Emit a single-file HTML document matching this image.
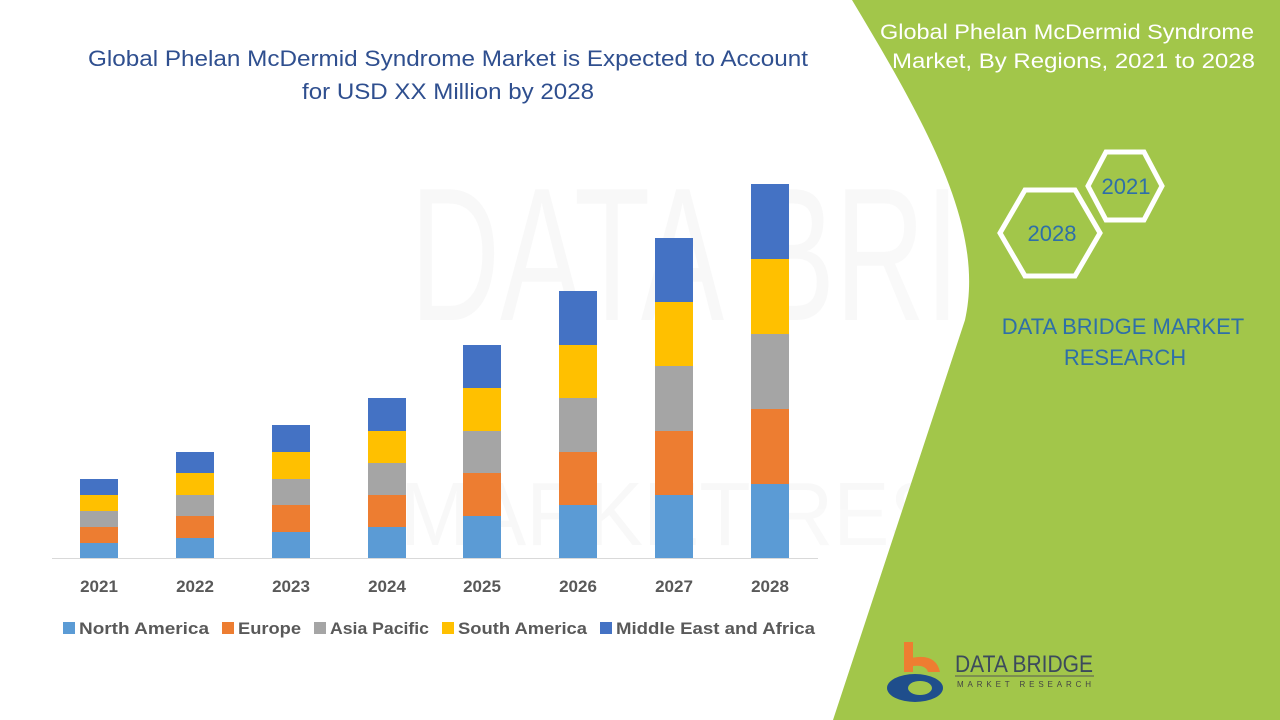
<!DOCTYPE html>
<html><head><meta charset="utf-8"><style>
body{margin:0;width:1280px;height:720px;overflow:hidden;background:#fff;font-family:"Liberation Sans",Calibri,sans-serif}
</style></head><body>
<svg width="1280" height="720" viewBox="0 0 1280 720" xmlns="http://www.w3.org/2000/svg" style="position:absolute;left:0;top:0">
<defs><clipPath id="w"><path d="M0,0 L852,0 C930,130 985,230 965,320 L833,720 L0,720 Z"/></clipPath></defs>
<path d="M852,0 C930,130 985,230 965,320 L833,720 L1280,720 L1280,0 Z" fill="#a2c64a"/>
<g font-family="Liberation Sans, sans-serif" opacity="0.03" fill="#444" clip-path="url(#w)">
<text x="410" y="320" font-size="190" textLength="820" lengthAdjust="spacingAndGlyphs">DATA BRIDGE</text>
<text x="400" y="545" font-size="90" textLength="840" lengthAdjust="spacingAndGlyphs">MARKET RESEARCH</text>
</g>
<text x="88" y="66" font-size="22" fill="#2f4f8f" textLength="720" lengthAdjust="spacingAndGlyphs">Global Phelan McDermid Syndrome Market is Expected to Account</text>
<text x="302" y="99" font-size="22" fill="#2f4f8f" textLength="292" lengthAdjust="spacingAndGlyphs">for USD XX Million by 2028</text>
<text x="880" y="39" font-size="21" fill="#fff" textLength="374" lengthAdjust="spacingAndGlyphs">Global Phelan McDermid Syndrome</text>
<text x="892" y="68" font-size="21" fill="#fff" textLength="363" lengthAdjust="spacingAndGlyphs">Market, By Regions, 2021 to 2028</text>
<polygon points="1088,186 1106,152 1144,152 1162,186 1144,220 1106,220" fill="none" stroke="#fff" stroke-width="5"/>
<polygon points="1000,233 1025,190 1075,190 1100,233 1075,276 1025,276" fill="none" stroke="#fff" stroke-width="5"/>
<text x="1126" y="194" text-anchor="middle" font-size="22" fill="#2e6fa8">2021</text>
<text x="1052" y="241" text-anchor="middle" font-size="22" fill="#2e6fa8">2028</text>
<text x="1123" y="334" text-anchor="middle" font-size="22" fill="#2e6fa8">DATA BRIDGE MARKET</text>
<text x="1125" y="365" text-anchor="middle" font-size="22" fill="#2e6fa8">RESEARCH</text>
<rect x="904" y="642" width="9" height="30" fill="#ee7d31"/>
<path d="M904,660 Q935,650 940,672 L928,672 Q925,662 904,668 Z" fill="#ee7d31"/>
<ellipse cx="915" cy="688" rx="28" ry="14" fill="#1f4e8c"/>
<ellipse cx="920" cy="688" rx="12" ry="7" fill="#a2c64a"/>
<text x="955" y="672" font-size="24" fill="#3c4a5c" textLength="138" lengthAdjust="spacingAndGlyphs">DATA BRIDGE</text>
<line x1="955" y1="676" x2="1094" y2="676" stroke="#555" stroke-width="1"/>
<text x="957" y="687" font-size="8" fill="#444" textLength="134" lengthAdjust="spacing">MARKET RESEARCH</text>
<line x1="52" y1="558.5" x2="818" y2="558.5" stroke="#d9d9d9" stroke-width="1"/>
<g font-size="17" font-weight="bold" fill="#595959" text-anchor="middle">
<text x="99" y="592">2021</text><text x="195" y="592">2022</text><text x="291" y="592">2023</text><text x="387" y="592">2024</text><text x="482" y="592">2025</text><text x="578" y="592">2026</text><text x="674" y="592">2027</text><text x="770" y="592">2028</text>
</g>
<g font-size="17" font-weight="bold" fill="#595959">
<rect x="63" y="622" width="12" height="12" fill="#5b9bd5"/><text x="79" y="634" textLength="130" lengthAdjust="spacingAndGlyphs">North America</text>
<rect x="222" y="622" width="12" height="12" fill="#ed7d31"/><text x="238" y="634" textLength="63" lengthAdjust="spacingAndGlyphs">Europe</text>
<rect x="314" y="622" width="12" height="12" fill="#a5a5a5"/><text x="330" y="634" textLength="99" lengthAdjust="spacingAndGlyphs">Asia Pacific</text>
<rect x="442" y="622" width="12" height="12" fill="#ffc000"/><text x="458" y="634" textLength="129" lengthAdjust="spacingAndGlyphs">South America</text>
<rect x="600" y="622" width="12" height="12" fill="#4472c4"/><text x="616" y="634" textLength="199" lengthAdjust="spacingAndGlyphs">Middle East and Africa</text>
</g>
<g>
<rect x="80" y="543" width="38" height="15" fill="#5b9bd5"/><rect x="80" y="527" width="38" height="16" fill="#ed7d31"/><rect x="80" y="511" width="38" height="16" fill="#a5a5a5"/><rect x="80" y="495" width="38" height="16" fill="#ffc000"/><rect x="80" y="479" width="38" height="16" fill="#4472c4"/>
<rect x="176" y="538" width="38" height="20" fill="#5b9bd5"/><rect x="176" y="516" width="38" height="22" fill="#ed7d31"/><rect x="176" y="495" width="38" height="21" fill="#a5a5a5"/><rect x="176" y="473" width="38" height="22" fill="#ffc000"/><rect x="176" y="452" width="38" height="21" fill="#4472c4"/>
<rect x="272" y="532" width="38" height="26" fill="#5b9bd5"/><rect x="272" y="505" width="38" height="27" fill="#ed7d31"/><rect x="272" y="479" width="38" height="26" fill="#a5a5a5"/><rect x="272" y="452" width="38" height="27" fill="#ffc000"/><rect x="272" y="425" width="38" height="27" fill="#4472c4"/>
<rect x="368" y="527" width="38" height="31" fill="#5b9bd5"/><rect x="368" y="495" width="38" height="32" fill="#ed7d31"/><rect x="368" y="463" width="38" height="32" fill="#a5a5a5"/><rect x="368" y="431" width="38" height="32" fill="#ffc000"/><rect x="368" y="398" width="38" height="33" fill="#4472c4"/>
<rect x="463" y="516" width="38" height="42" fill="#5b9bd5"/><rect x="463" y="473" width="38" height="43" fill="#ed7d31"/><rect x="463" y="431" width="38" height="42" fill="#a5a5a5"/><rect x="463" y="388" width="38" height="43" fill="#ffc000"/><rect x="463" y="345" width="38" height="43" fill="#4472c4"/>
<rect x="559" y="505" width="38" height="53" fill="#5b9bd5"/><rect x="559" y="452" width="38" height="53" fill="#ed7d31"/><rect x="559" y="398" width="38" height="54" fill="#a5a5a5"/><rect x="559" y="345" width="38" height="53" fill="#ffc000"/><rect x="559" y="291" width="38" height="54" fill="#4472c4"/>
<rect x="655" y="495" width="38" height="63" fill="#5b9bd5"/><rect x="655" y="431" width="38" height="64" fill="#ed7d31"/><rect x="655" y="366" width="38" height="65" fill="#a5a5a5"/><rect x="655" y="302" width="38" height="64" fill="#ffc000"/><rect x="655" y="238" width="38" height="64" fill="#4472c4"/>
<rect x="751" y="484" width="38" height="74" fill="#5b9bd5"/><rect x="751" y="409" width="38" height="75" fill="#ed7d31"/><rect x="751" y="334" width="38" height="75" fill="#a5a5a5"/><rect x="751" y="259" width="38" height="75" fill="#ffc000"/><rect x="751" y="184" width="38" height="75" fill="#4472c4"/>
</g>
</svg>
</body></html>
